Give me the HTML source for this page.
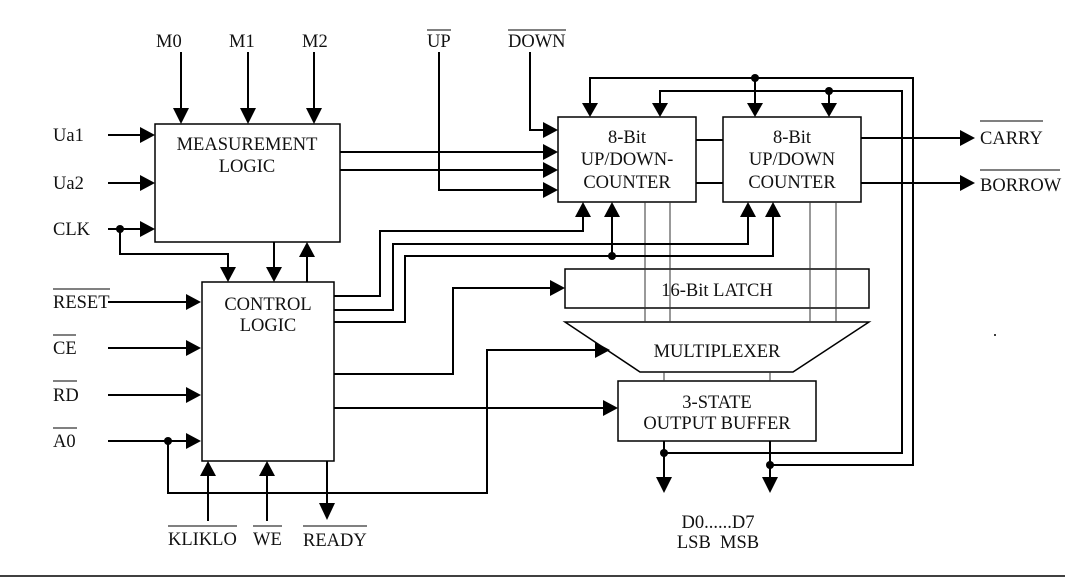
<!DOCTYPE html>
<html><head><meta charset="utf-8"><style>
html,body{margin:0;padding:0;background:#fff;}
svg{display:block;}
text{font-family:"Liberation Serif",serif;font-size:18.5px;fill:#111;}
</style></head><body>
<svg width="1065" height="579" viewBox="0 0 1065 579" xmlns="http://www.w3.org/2000/svg">
<g fill="none" stroke="#000" stroke-width="2">
<rect x="155" y="124" width="185" height="118" stroke-width="1.5"/>
<rect x="202" y="282" width="132" height="179" stroke-width="1.5"/>
<rect x="558" y="117" width="138" height="85" stroke-width="1.5"/>
<rect x="723" y="117" width="138" height="85" stroke-width="1.5"/>
<rect x="565" y="269" width="304" height="39" stroke-width="1.5"/>
<polygon points="565,322 869,322 793,372 640,372" stroke-width="1.5"/>
<rect x="618" y="381" width="198" height="60" stroke-width="1.5"/>
<g stroke-width="1" stroke="#333">
<line x1="645" y1="202" x2="645" y2="322"/><line x1="670" y1="202" x2="670" y2="322"/>
<line x1="810" y1="202" x2="810" y2="322"/><line x1="836" y1="202" x2="836" y2="322"/>
<line x1="664" y1="372" x2="664" y2="381"/><line x1="770" y1="372" x2="770" y2="381"/>
</g>
<line x1="181" y1="52" x2="181" y2="110"/><line x1="248" y1="52" x2="248" y2="110"/><line x1="314" y1="52" x2="314" y2="110"/>
<line x1="108" y1="135" x2="142" y2="135"/><line x1="108" y1="183" x2="142" y2="183"/><line x1="108" y1="229" x2="142" y2="229"/>
<polyline points="120,229 120,254 228,254 228,268"/>
<line x1="274" y1="242" x2="274" y2="268"/><line x1="307" y1="282" x2="307" y2="256"/>
<line x1="340" y1="152" x2="545" y2="152"/><line x1="340" y1="170" x2="545" y2="170"/>
<polyline points="439,52 439,190 545,190"/>
<polyline points="530,52 530,130 545,130"/>
<line x1="696" y1="140" x2="723" y2="140"/><line x1="696" y1="183" x2="723" y2="183"/>
<line x1="861" y1="138" x2="962" y2="138"/><line x1="861" y1="183" x2="962" y2="183"/>
<polyline points="590,104 590,78 913,78 913,465 770,465"/>
<polyline points="660,104 660,91 902,91 902,453 664,453"/>
<line x1="755" y1="78" x2="755" y2="104"/><line x1="829" y1="91" x2="829" y2="104"/>
<line x1="108" y1="302" x2="188" y2="302"/><line x1="108" y1="348" x2="188" y2="348"/>
<line x1="108" y1="395" x2="188" y2="395"/><line x1="108" y1="441" x2="188" y2="441"/>
<polyline points="168,441 168,493 487,493 487,350 597,350"/>
<line x1="208" y1="521" x2="208" y2="475"/><line x1="267" y1="521" x2="267" y2="475"/>
<line x1="327" y1="461" x2="327" y2="505"/>
<polyline points="334,296 380,296 380,231 583,231 583,216"/>
<polyline points="334,310 393,310 393,244 748,244 748,216"/>
<polyline points="334,322 405,322 405,256 773,256 773,216"/>
<line x1="612" y1="256" x2="612" y2="216"/>
<polyline points="334,374 453,374 453,288 552,288"/>
<line x1="334" y1="408" x2="605" y2="408"/>
<line x1="664" y1="441" x2="664" y2="478"/><line x1="770" y1="441" x2="770" y2="478"/>
<line x1="0" y1="576" x2="1065" y2="576" stroke-width="1.5"/>
</g>
<g fill="#000">
<polygon points="173,108 189,108 181,124"/><polygon points="240,108 256,108 248,124"/><polygon points="306,108 322,108 314,124"/>
<polygon points="582,103 598,103 590,117"/><polygon points="652,103 668,103 660,117"/><polygon points="747,103 763,103 755,117"/><polygon points="821,103 837,103 829,117"/>
<polygon points="220,267 236,267 228,282"/><polygon points="266,267 282,267 274,282"/>
<polygon points="319,503 335,503 327,520"/>
<polygon points="656,477 672,477 664,493"/><polygon points="762,477 778,477 770,493"/>
<polygon points="299,257 315,257 307,242"/>
<polygon points="575,217 591,217 583,202"/><polygon points="604,217 620,217 612,202"/>
<polygon points="740,217 756,217 748,202"/><polygon points="765,217 781,217 773,202"/>
<polygon points="200,476 216,476 208,461"/><polygon points="259,476 275,476 267,461"/>
<polygon points="140,127 155,135 140,143"/><polygon points="140,175 155,183 140,191"/><polygon points="140,221 155,229 140,237"/>
<polygon points="543,122 558,130 543,138"/><polygon points="543,144 558,152 543,160"/><polygon points="543,162 558,170 543,178"/><polygon points="543,182 558,190 543,198"/>
<polygon points="960,130 975,138 960,146"/><polygon points="960,175 975,183 960,191"/>
<polygon points="186,294 201,302 186,310"/><polygon points="186,340 201,348 186,356"/><polygon points="186,387 201,395 186,403"/><polygon points="186,433 201,441 186,449"/>
<polygon points="550,280 565,288 550,296"/>
<polygon points="595,342 610,350 595,358"/>
<polygon points="603,400 618,408 603,416"/>
<circle cx="120" cy="229" r="4"/><circle cx="168" cy="441" r="4"/><circle cx="612" cy="256" r="4"/>
<circle cx="755" cy="78" r="4"/><circle cx="829" cy="91" r="4"/>
<circle cx="664" cy="453" r="4"/><circle cx="770" cy="465" r="4"/>
<circle cx="995" cy="335" r="1"/>
</g>
<text x="156" y="47">M0</text><text x="229" y="47">M1</text><text x="302" y="47">M2</text>
<text x="427" y="47">UP</text><text x="508" y="47">DOWN</text>
<g stroke="#000" stroke-width="1"><line x1="427" y1="30" x2="451" y2="30"/><line x1="508" y1="30" x2="566" y2="30"/>
<line x1="980" y1="121" x2="1043" y2="121"/><line x1="980" y1="170" x2="1060" y2="170"/>
<line x1="53" y1="289" x2="110" y2="289"/><line x1="53" y1="335" x2="76" y2="335"/><line x1="53" y1="381" x2="77" y2="381"/><line x1="53" y1="428" x2="77" y2="428"/>
<line x1="168" y1="526" x2="237" y2="526"/><line x1="253" y1="526" x2="282" y2="526"/><line x1="303" y1="526" x2="367" y2="526"/></g>
<text x="53" y="141">Ua1</text><text x="53" y="189">Ua2</text><text x="53" y="235">CLK</text>
<text x="247" y="150" text-anchor="middle">MEASUREMENT</text><text x="247" y="172" text-anchor="middle">LOGIC</text>
<text x="268" y="310" text-anchor="middle">CONTROL</text><text x="268" y="331" text-anchor="middle">LOGIC</text>
<text x="627" y="143" text-anchor="middle">8-Bit</text><text x="627" y="165" text-anchor="middle">UP/DOWN-</text><text x="627" y="188" text-anchor="middle">COUNTER</text>
<text x="792" y="143" text-anchor="middle">8-Bit</text><text x="792" y="165" text-anchor="middle">UP/DOWN</text><text x="792" y="188" text-anchor="middle">COUNTER</text>
<text x="717" y="296" text-anchor="middle">16-Bit LATCH</text>
<text x="717" y="357" text-anchor="middle">MULTIPLEXER</text>
<text x="717" y="408" text-anchor="middle">3-STATE</text><text x="717" y="429" text-anchor="middle">OUTPUT BUFFER</text>
<text x="980" y="144">CARRY</text><text x="980" y="191">BORROW</text>
<text x="53" y="308">RESET</text><text x="53" y="354">CE</text><text x="53" y="401">RD</text><text x="53" y="447">A0</text>
<text x="168" y="545">KLIKLO</text><text x="253" y="545">WE</text><text x="303" y="546">READY</text>
<text x="718" y="528" text-anchor="middle">D0......D7</text><text x="718" y="548" text-anchor="middle">LSB&#160;&#160;MSB</text>
</svg>
</body></html>
